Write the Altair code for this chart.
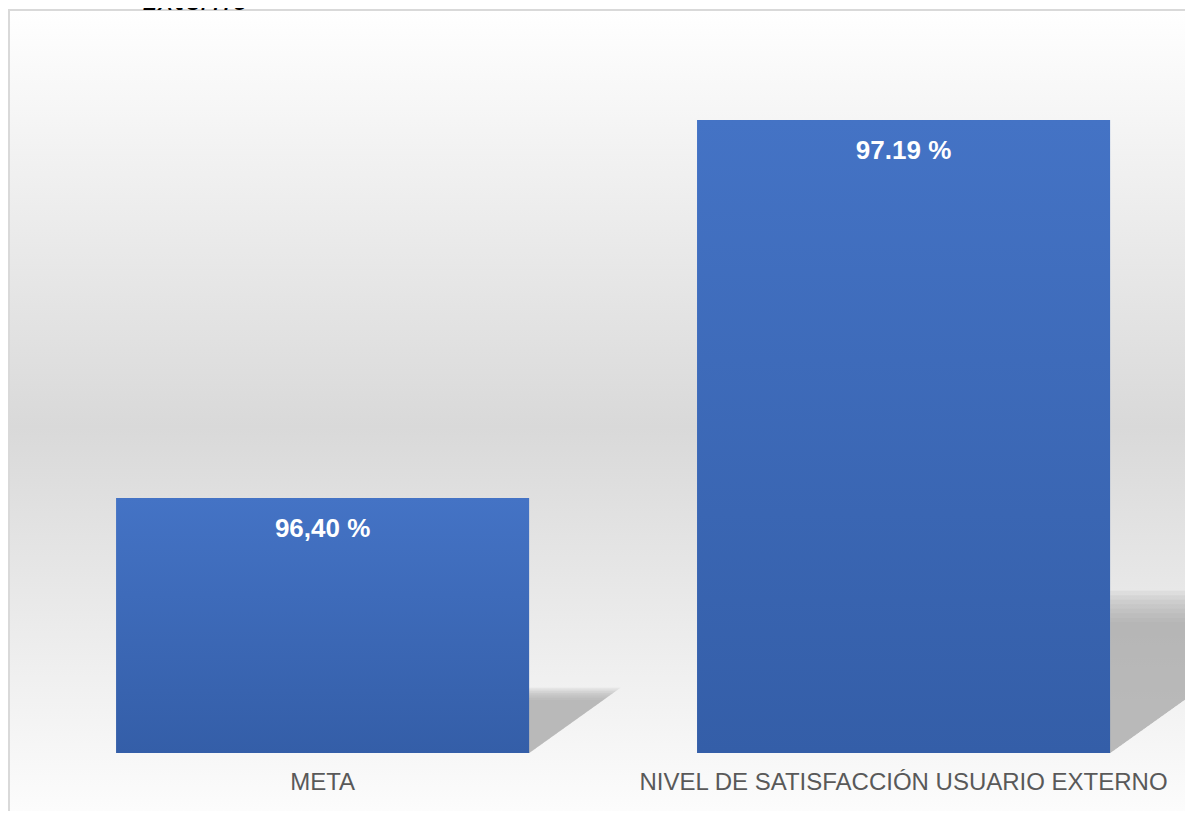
import altair as alt
import pandas as pd

# ---- data ----
categories = ["META", "NIVEL DE SATISFACCIÓN USUARIO EXTERNO"]
values = [96.40, 97.19]
value_labels = ["96,40 %", "97.19 %"]
axis_min = 95.867
axis_max = 97.399
heading_text = ["Externo"]

W, H = 1148, 733
px_per_unit = H / (axis_max - axis_min)

df = pd.DataFrame({
    "cat": categories,
    "value": values,
    "label": value_labels,
    "base": [axis_min] * len(values),
})

x_scale = alt.Scale(type="band", paddingInner=0.289, paddingOuter=0.1325, align=0.546)
y_scale = alt.Scale(domain=[axis_min, axis_max], zero=False, nice=False)

x_axis = alt.Axis(
    title=None, labelAngle=0, labelFont="Liberation Sans", labelFontSize=24,
    labelColor="#595959", ticks=False, tickSize=0, domain=False,
    labelPadding=17, labelLimit=2000, grid=False, zindex=2,
)

# background of the chart area with frame
bg = alt.Chart(pd.DataFrame({"k": [0]})).mark_rect(
    fill=alt.Gradient(
        gradient="linear", x1=0, y1=0, x2=0, y2=1,
        stops=[alt.GradientStop(offset=0, color="#ffffff"),
               alt.GradientStop(offset=0.5, color="#d9d9d9"),
               alt.GradientStop(offset=1, color="#ffffff")],
    ),
    stroke="#d9d9d9", strokeWidth=2,
).encode(
    x=alt.value(-23), x2=alt.value(W + 60),
    y=alt.value(-10), y2=alt.value(H + 90),
)

base = alt.Chart(df)

def shadow_layer(factor):
    return base.transform_calculate(
        ssize=f"4*pow({0.235 * factor}*(datum.value-datum.base)*{px_per_unit},2)"
    ).mark_point(
        shape="M0,0 L0,-1 L1.4,-1 Z", filled=True, strokeWidth=0,
        fill="#a8a8a8", opacity=0.16,
    ).encode(
        x=alt.X("cat:N", sort=categories, scale=x_scale, axis=x_axis, bandPosition=1),
        y=alt.Y("base:Q", scale=y_scale, axis=None),
        size=alt.Size("ssize:Q", scale=None, legend=None),
    )

shadows = [shadow_layer(0.88 + 0.03 * i) for i in range(8)]

bars = base.mark_bar(
    fill=alt.Gradient(
        gradient="linear", x1=0, y1=0, x2=0, y2=1,
        stops=[alt.GradientStop(offset=0, color="#4473c5"),
               alt.GradientStop(offset=1, color="#345ea8")],
    ),
).encode(
    x=alt.X("cat:N", sort=categories, scale=x_scale, axis=x_axis),
    y=alt.Y("value:Q", scale=y_scale, axis=None),
    y2="base:Q",
)

labels = base.mark_text(
    font="Liberation Sans", fontWeight="bold", fontSize=26, color="#ffffff",
    align="center", baseline="alphabetic", dy=39,
).encode(
    x=alt.X("cat:N", sort=categories, scale=x_scale, axis=x_axis),
    y=alt.Y("value:Q", scale=y_scale, axis=None),
    text="label:N",
)

heading = alt.Chart(pd.DataFrame({"t": heading_text})).mark_text(
    font="Open Sans", fontStyle="italic", fontSize=32, color="#000000",
    align="left", baseline="alphabetic",
).encode(x=alt.value(110), y=alt.value(-10.5), text="t:N")

chart = alt.layer(bg, *shadows, bars, labels, heading).properties(
    width=W, height=H,
    autosize=alt.AutoSizeParams(type="none"),
    padding={"left": 24, "top": 12, "right": 5, "bottom": 58},
).configure_view(stroke=None).configure(background="#ffffff")

chart.save("out.html", embed_options={"renderer": "svg", "actions": False})
